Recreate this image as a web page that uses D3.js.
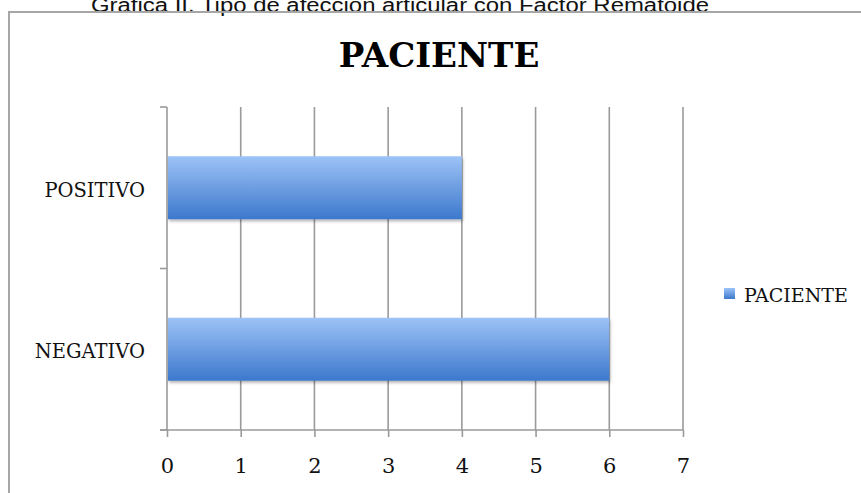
<!DOCTYPE html>
<html>
<head>
<meta charset="utf-8">
<script src="https://cdn.jsdelivr.net/npm/d3@7"></script>
<style>
  body { margin: 0; background: #fff; }
  svg { display: block; }
</style>
</head>
<body>
<div id="chart"></div>
<script>
const categories = ["POSITIVO", "NEGATIVO"];
const values = [4, 6];
const xTicks = [0, 1, 2, 3, 4, 5, 6, 7];
const seriesName = "PACIENTE";
const caption = "Gráfica II. Tipo de afección articular con Factor Rematoide";

const W = 861, H = 493;
const margin = { top: 107, left: 167, right: 178, bottom: 63 };
const width = W - margin.left - margin.right;   // 516
const height = H - margin.top - margin.bottom;  // 323
const serif = "DejaVu Serif, Liberation Serif, serif";

const svg = d3.select("#chart")
    .append("svg")
    .attr("width", W)
    .attr("height", H);

const defs = svg.append("defs");
const grad = defs.append("linearGradient")
    .attr("id", "barGrad")
    .attr("x1", 0).attr("y1", 0).attr("x2", 0).attr("y2", 1);
grad.append("stop").attr("offset", "0%").attr("stop-color", "#9dc3f7");
grad.append("stop").attr("offset", "100%").attr("stop-color", "#3c78cc");

const shadow = defs.append("filter").attr("id", "shadow")
    .attr("x", "-5%").attr("y", "-10%").attr("width", "115%").attr("height", "130%");
shadow.append("feDropShadow")
    .attr("dx", 1).attr("dy", 2).attr("stdDeviation", 1.5)
    .attr("flood-color", "#000").attr("flood-opacity", 0.3);

// caption above the frame (cut off at the top in the original)
svg.append("text")
    .attr("x", 91)
    .attr("y", 12)
    .attr("font-family", "Liberation Sans, Arial, sans-serif")
    .attr("font-size", 20)
    .attr("fill", "#111")
    .attr("textLength", 618)
    .attr("lengthAdjust", "spacingAndGlyphs")
    .text(caption);

// chart frame
svg.append("rect")
    .attr("x", 9)
    .attr("y", 12)
    .attr("width", 900)
    .attr("height", 520)
    .attr("fill", "none")
    .attr("stroke", "#a6a6a6")
    .attr("stroke-width", 2);

// title
svg.append("text")
    .attr("x", 439)
    .attr("y", 67)
    .attr("text-anchor", "middle")
    .attr("font-family", serif)
    .attr("font-weight", "bold")
    .attr("font-size", 34)
    .attr("fill", "#000")
    .text(seriesName);

const g = svg.append("g")
    .attr("transform", `translate(${margin.left},${margin.top})`);

const x = d3.scaleLinear()
    .domain([0, 7])
    .range([0, width]);

const y = d3.scaleBand()
    .domain(categories)
    .range([0, height])
    .paddingInner(0.61)
    .paddingOuter(0.305);

const yEdges = d3.scaleBand()
    .domain(categories)
    .range([0, height]);

// vertical grid lines
g.append("g")
    .selectAll("line")
    .data(xTicks.slice(1))
    .enter().append("line")
    .attr("x1", d => x(d))
    .attr("x2", d => x(d))
    .attr("y1", 0)
    .attr("y2", height)
    .attr("stroke", "#9a9a9a")
    .attr("stroke-width", 1.6);

// x axis
const xAxis = g.append("g")
    .attr("transform", `translate(0,${height})`)
    .call(d3.axisBottom(x).tickValues(xTicks).tickSize(7).tickPadding(21).tickFormat(d3.format("d")));
xAxis.select(".domain")
    .attr("d", `M-7,0H${width}`)
    .attr("stroke", "#9a9a9a")
    .attr("stroke-width", 1.6);
xAxis.selectAll(".tick line").attr("stroke", "#9a9a9a").attr("stroke-width", 1.6);
xAxis.selectAll(".tick text")
    .attr("font-family", serif)
    .attr("font-size", 21)
    .attr("fill", "#111");

// y axis: line and boundary ticks
g.append("line")
    .attr("x1", 0).attr("x2", 0)
    .attr("y1", 0).attr("y2", height)
    .attr("stroke", "#9a9a9a")
    .attr("stroke-width", 1.6);
const edges = categories.map(c => yEdges(c)).concat([height]);
g.append("g")
    .selectAll("line")
    .data(edges)
    .enter().append("line")
    .attr("x1", -7).attr("x2", 0)
    .attr("y1", d => d).attr("y2", d => d)
    .attr("stroke", "#9a9a9a")
    .attr("stroke-width", 1.6);

// category labels
g.append("g")
    .selectAll("text")
    .data(categories)
    .enter().append("text")
    .attr("x", -22)
    .attr("y", d => y(d) + y.bandwidth() / 2 + 2)
    .attr("dy", "0.35em")
    .attr("text-anchor", "end")
    .attr("font-family", serif)
    .attr("font-size", 19.5)
    .attr("fill", "#111")
    .text(d => d);

// bars
g.append("g")
    .selectAll("rect")
    .data(categories.map((c, i) => ({ name: c, value: values[i] })))
    .enter().append("rect")
    .attr("x", x(0) + 1)
    .attr("y", d => y(d.name))
    .attr("width", d => x(d.value) - x(0) - 1)
    .attr("height", y.bandwidth())
    .attr("fill", "url(#barGrad)")
    .attr("filter", "url(#shadow)");

// legend
const legend = svg.append("g").attr("transform", "translate(724,288)");
legend.append("rect")
    .attr("width", 11)
    .attr("height", 11)
    .attr("fill", "url(#barGrad)");
legend.append("text")
    .attr("x", 20)
    .attr("y", 7)
    .attr("dy", "0.35em")
    .attr("font-family", serif)
    .attr("font-size", 19)
    .attr("fill", "#111")
    .text(seriesName);
</script>
</body>
</html>
